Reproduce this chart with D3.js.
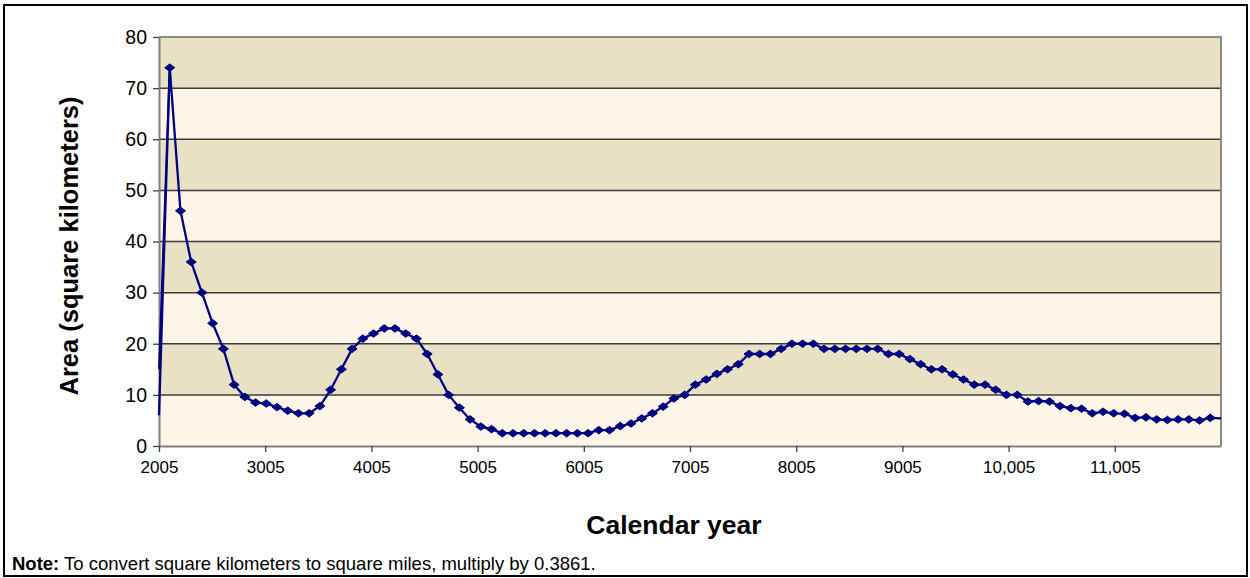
<!DOCTYPE html>
<html>
<head>
<meta charset="utf-8">
<script src="https://cdn.jsdelivr.net/npm/d3@7"></script>
<style>
  html, body { margin: 0; padding: 0; background: #fff; }
  svg { display: block; font-family: "Liberation Sans", Arial, sans-serif; }
</style>
</head>
<body>
<svg id="chart" width="1250" height="578"></svg>
<script>
// ---- data ----
const xTickValues = [2005, 3005, 4005, 5005, 6005, 7005, 8005, 9005, 10005, 11005];
const xTickLabels = ["2005", "3005", "4005", "5005", "6005", "7005", "8005", "9005", "10,005", "11,005"];
const yTickValues = [0, 10, 20, 30, 40, 50, 60, 70, 80];
const areaValues = [
  6,
  74, 46, 36, 30, 24, 19, 12, 9.6, 8.5, 8.3,
  7.6, 6.9, 6.4, 6.4, 7.8, 11, 15, 19, 21, 22,
  23, 23, 22, 21, 18, 14, 10, 7.5, 5.2, 3.8,
  3.3, 2.5, 2.5, 2.5, 2.5, 2.5, 2.5, 2.5, 2.5, 2.5,
  3.1, 3.1, 3.9, 4.4, 5.4, 6.4, 7.7, 9.3, 10, 12,
  13, 14.1, 15, 16, 18, 18, 18, 19, 20, 20,
  20, 19, 19, 19, 19, 19, 19, 18, 18, 17,
  16, 15, 15, 14, 13, 12, 12, 11, 10, 10,
  8.7, 8.8, 8.7, 7.8, 7.4, 7.3, 6.4, 6.7, 6.4, 6.3,
  5.5, 5.6, 5.2, 5.1, 5.2, 5.2, 5.0, 5.5,
  5.4
];
const leadInValues = [15];            // second start value drawn at the left edge
const xStart = 2005, xEnd = 12005;
// samples are evenly spread over the full axis span
const years = areaValues.map((d, i) => xStart + i * (xEnd - xStart) / (areaValues.length - 1));

// ---- layout ----
const svg = d3.select("#chart");
const plot = { left: 159, right: 1221, top: 37, bottom: 446 };
const FONT = "'Liberation Sans', Arial, sans-serif";

const x = d3.scaleLinear().domain([xStart, xEnd]).range([plot.left, plot.right]);
const y = d3.scaleLinear().domain([0, 80]).range([plot.bottom, plot.top]);

// outer frame
svg.append("rect").attr("x", 4).attr("y", 5).attr("width", 1243).attr("height", 571)
  .attr("fill", "#fff").attr("stroke", "#000").attr("stroke-width", 2);

// bands
const bands = d3.pairs(yTickValues);
svg.append("g").selectAll("rect").data(bands).join("rect")
  .attr("x", plot.left).attr("width", plot.right - plot.left)
  .attr("y", d => y(d[1])).attr("height", d => y(d[0]) - y(d[1]))
  .attr("fill", (d, i) => i % 2 === 0 ? "#FDF6E8" : "#E9E1C3");

// gridlines
svg.append("g").selectAll("line").data(yTickValues.filter(v => v > 0 && v < 80)).join("line")
  .attr("x1", plot.left).attr("x2", plot.right)
  .attr("y1", d => y(d)).attr("y2", d => y(d))
  .attr("stroke", "#3a3a3a").attr("stroke-width", 1.5);

// plot border (top / right)
svg.append("path")
  .attr("d", `M${plot.left},${plot.top}H${plot.right}V${plot.bottom}`)
  .attr("fill", "none").attr("stroke", "#8a8a8a").attr("stroke-width", 2);

// axes
const yAxis = d3.axisLeft(y).tickValues(yTickValues).tickSize(6).tickPadding(6).tickSizeOuter(0);
const gy = svg.append("g").attr("transform", `translate(${plot.left},0)`).call(yAxis);
gy.select(".domain").attr("stroke", "#808080").attr("stroke-width", 2);
gy.selectAll(".tick line").attr("stroke", "#404040").attr("stroke-width", 1.3);
gy.selectAll(".tick text").attr("font-size", 19.5).attr("fill", "#000").attr("font-family", FONT);

const xAxis = d3.axisBottom(x).tickValues(xTickValues)
  .tickFormat((d, i) => xTickLabels[i]).tickSize(6).tickPadding(9).tickSizeOuter(0);
const gx = svg.append("g").attr("transform", `translate(0,${plot.bottom})`).call(xAxis);
gx.select(".domain").attr("stroke", "#808080").attr("stroke-width", 2);
gx.selectAll(".tick line").attr("stroke", "#404040").attr("stroke-width", 1.3);
gx.selectAll(".tick text").attr("font-size", 17).attr("fill", "#000").attr("font-family", FONT);

// series
const pts = areaValues.map((v, i) => [years[i], v]);
const line = d3.line().x(d => x(d[0])).y(d => y(d[1]));

svg.append("g").selectAll("path.lead").data(leadInValues).join("path")
  .attr("class", "lead")
  .attr("d", v => line([[xStart, v], pts[1]]))
  .attr("fill", "none").attr("stroke", "#000080").attr("stroke-width", 2);

svg.append("path").datum(pts)
  .attr("d", line)
  .attr("fill", "none").attr("stroke", "#000080").attr("stroke-width", 2.3)
  .attr("stroke-linejoin", "round");

const diamond = "M-5,0L0,-3.8L5,0L0,3.8Z";
svg.append("g").selectAll("path.mk").data(pts.slice(1, pts.length - 1)).join("path")
  .attr("class", "mk")
  .attr("transform", d => `translate(${x(d[0])},${y(d[1])})`)
  .attr("d", diamond)
  .attr("fill", "#000080").attr("stroke", "#000080").attr("stroke-width", 1);

// titles
svg.append("text")
  .attr("transform", `translate(78,246) rotate(-90)`)
  .attr("text-anchor", "middle")
  .attr("font-size", 25.5).attr("font-weight", "bold")
  .text("Area (square kilometers)");

svg.append("text")
  .attr("x", 674).attr("y", 534)
  .attr("text-anchor", "middle")
  .attr("font-size", 26.5).attr("font-weight", "bold")
  .text("Calendar year");

const note = svg.append("text").attr("x", 12).attr("y", 570).attr("font-size", 18.5);
note.append("tspan").attr("font-weight", "bold").text("Note:");
note.append("tspan").text(" To convert square kilometers to square miles, multiply by 0.3861.");
</script>
</body>
</html>
